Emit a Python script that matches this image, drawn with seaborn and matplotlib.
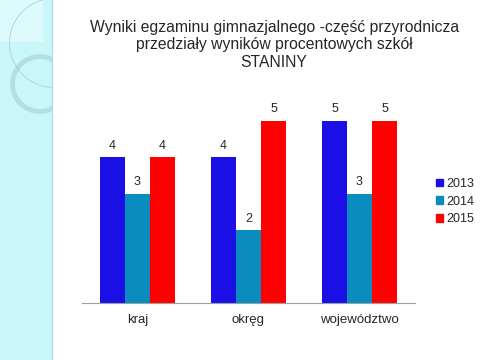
import matplotlib
matplotlib.use("Agg")
import matplotlib.pyplot as plt
import matplotlib.patches as mpatches
import seaborn as sns
import pandas as pd

categories = ["kraj", "okręg", "województwo"]
years = ["2013", "2014", "2015"]
values_2013 = [4, 4, 5]
values_2014 = [3, 2, 3]
values_2015 = [4, 5, 5]
colors = ["#1A10E6", "#0B8CBE", "#FF0000"]

rows = []
for y, vals in zip(years, [values_2013, values_2014, values_2015]):
    for c, v in zip(categories, vals):
        rows.append({"kategoria": c, "rok": y, "wynik": v})
df = pd.DataFrame(rows)

sns.set_style("white")
plt.rcParams["font.family"] = ["Liberation Sans", "DejaVu Sans"]

fig = plt.figure(figsize=(4.8, 3.6), dpi=100)
fig.patch.set_facecolor("white")

# slide decoration: cyan strip on the left
W, H = 480, 360
strip = mpatches.Rectangle((0, 0), 52 / W, 1, transform=fig.transFigure,
                           facecolor="#C9F6F9", edgecolor="none", zorder=0)
fig.patches.append(strip)
deco = [
    mpatches.Rectangle((0, 1 - 42 / H), 43 / W, 42 / H, transform=fig.transFigure,
                       facecolor="#DDFBFC", edgecolor="none"),
    mpatches.Ellipse((54 / W, 1 - 43 / H), 89 / W, 89 / H, transform=fig.transFigure,
                     fill=False, edgecolor="#ADD8DC", lw=0.7),
    mpatches.Ellipse((40 / W, 1 - 84 / H), 55 / W, 55 / H, transform=fig.transFigure,
                     fill=False, edgecolor="#A8D6DB", lw=3.5, alpha=0.7),
]
for p in deco:
    fig.patches.append(p)
    p.set_clip_path(strip)
fig.lines.append(plt.Line2D([52 / W, 52 / W], [0, 1], transform=fig.transFigure,
                            color="#A8DCE0", lw=0.8))

ax = fig.add_axes([82 / W, 0.158, 333 / W, 0.608])
ax.set_facecolor("none")
sns.barplot(data=df, x="kategoria", y="wynik", hue="rok", palette=colors,
            width=0.675, gap=0, saturation=1, linewidth=0, ax=ax, legend=False)

for cont in ax.containers:
    ax.bar_label(cont, fmt="%d", padding=4, fontsize=9)

ax.set_ylim(0, 6)
ax.set_xlim(-0.5, 2.5)
ax.set_yticks([])
ax.set_xlabel("")
ax.set_ylabel("")
ax.tick_params(axis="x", which="major", length=0, labelsize=9.5, pad=8)
ax.set_xticks([-0.5, 0.5, 1.5, 2.5], minor=True)
ax.tick_params(axis="x", which="minor", length=4, color="#A0A0A0", width=0.8)
for s in ["left", "right", "top"]:
    ax.spines[s].set_visible(False)
ax.spines["bottom"].set_color("#A0A0A0")
ax.spines["bottom"].set_linewidth(0.8)

handles = [mpatches.Patch(color=c, label=y) for c, y in zip(colors, years)]
fig.legend(handles=handles, loc="center left", bbox_to_anchor=(0.885, 0.44),
           frameon=False, fontsize=9, handlelength=0.55, handleheight=0.55,
           handletextpad=0.3, labelspacing=0.45)

fig.text(0.571, 1 - 45 / H, "Wyniki egzaminu gimnazjalnego -część przyrodnicza\n"
         "przedziały wyników procentowych szkół\nSTANINY",
         ha="center", va="center", fontsize=11.3, linespacing=1.18)

fig.savefig("out.png", dpi=100)
